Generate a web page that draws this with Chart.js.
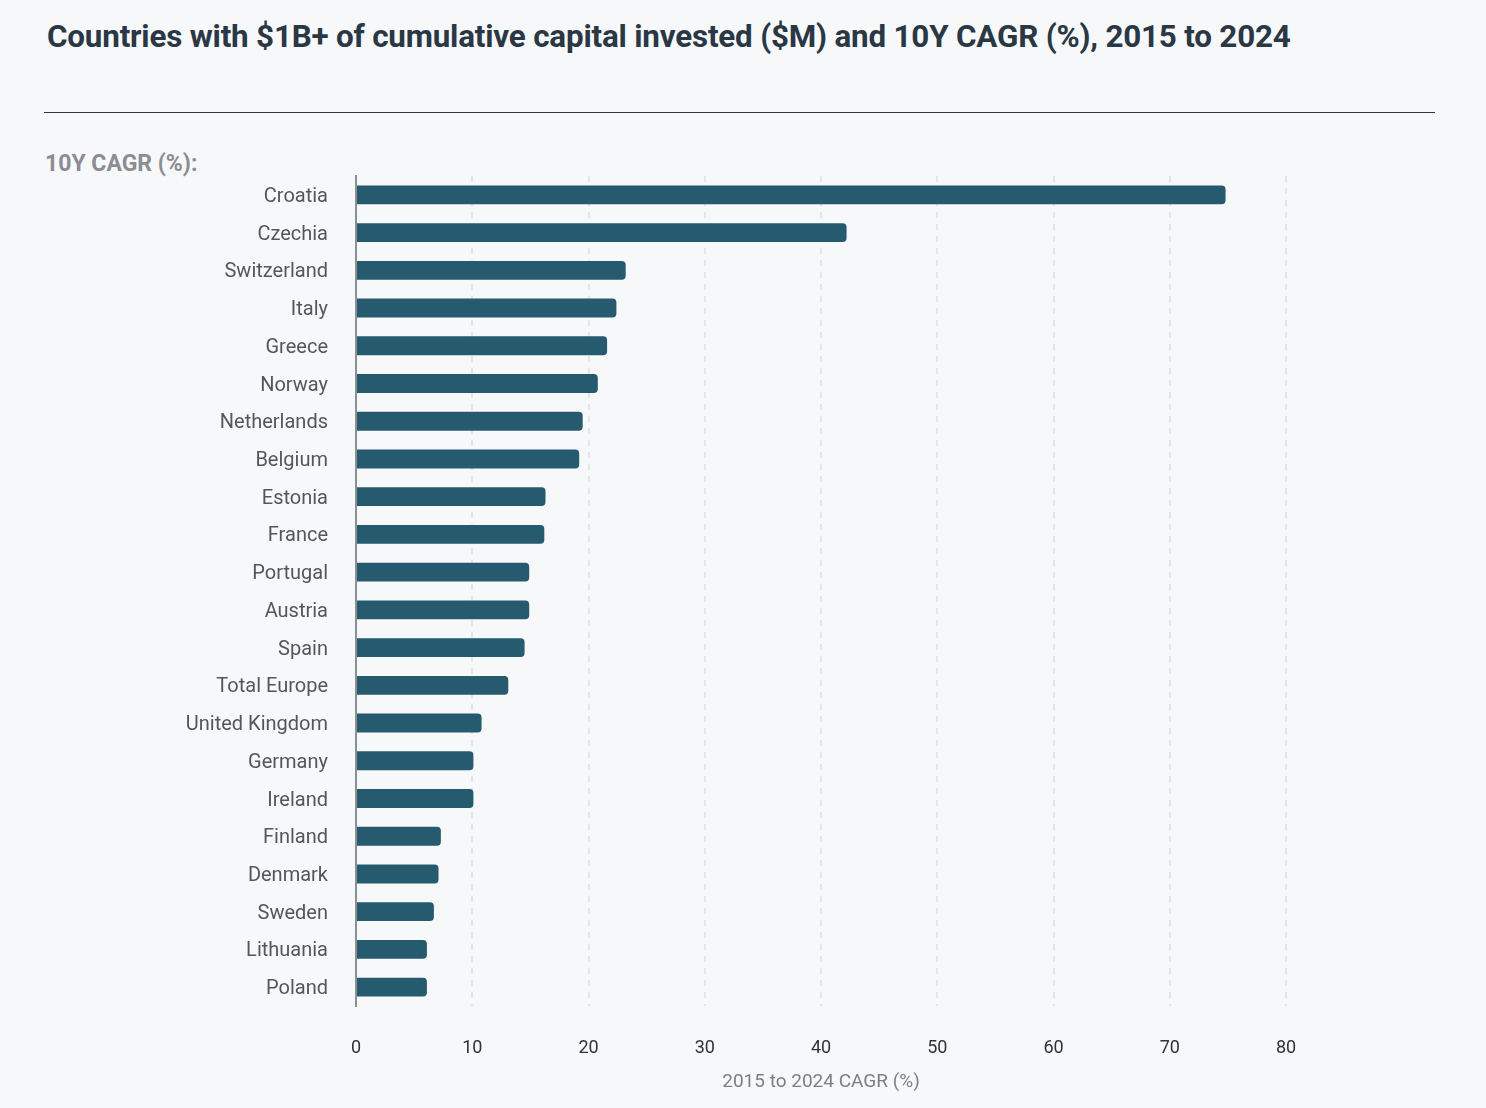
<!DOCTYPE html>
<html>
<head>
<meta charset="utf-8">
<script src="https://cdn.jsdelivr.net/npm/chart.js@4/dist/chart.umd.min.js"></script>
<style>
  html, body { margin: 0; padding: 0; background: #f7f8fa; }
  body { width: 1486px; height: 1108px; position: relative; overflow: hidden; font-family: Roboto, "Noto Sans", sans-serif; }
  #title { position: absolute; left: 47px; top: 18px; font-size: 31.4px; font-weight: 700; color: #2a3744; white-space: nowrap; letter-spacing: -0.2px; }
  #rule { position: absolute; left: 44px; top: 112px; width: 1391px; height: 1px; background: #2b3a48; }
  #sub { position: absolute; left: 45px; top: 150px; font-size: 23px; font-weight: 700; color: #8a8d91; white-space: nowrap; }
  #wrap { position: absolute; left: 0; top: 0; width: 1486px; height: 1108px; }
</style>
</head>
<body>
<div id="title">Countries with $1B+ of cumulative capital invested ($M) and 10Y CAGR (%), 2015 to 2024</div>
<div id="rule"></div>
<div id="sub">10Y CAGR (%):</div>
<div id="wrap"><canvas id="c" width="1486" height="1108"></canvas></div>
<script>
const countries = ["Croatia","Czechia","Switzerland","Italy","Greece","Norway","Netherlands","Belgium","Estonia","France","Portugal","Austria","Spain","Total Europe","United Kingdom","Germany","Ireland","Finland","Denmark","Sweden","Lithuania","Poland"];
const cagr = [74.8, 42.2, 23.2, 22.4, 21.6, 20.8, 19.5, 19.2, 16.3, 16.2, 14.9, 14.9, 14.5, 13.1, 10.8, 10.1, 10.1, 7.3, 7.1, 6.7, 6.1, 6.1];
const xTicks = [0, 10, 20, 30, 40, 50, 60, 70, 80];
const xTitle = "2015 to 2024 CAGR (%)";

new Chart(document.getElementById('c'), {
  type: 'bar',
  data: {
    labels: countries,
    datasets: [{
      data: cagr,
      backgroundColor: '#265a6e',
      borderRadius: 4,
      borderSkipped: 'start',
      barPercentage: 0.5,
      categoryPercentage: 1.0
    }]
  },
  options: {
    indexAxis: 'y',
    responsive: false,
    animation: false,
    devicePixelRatio: 1,
    layout: { padding: { top: 176, right: 200, left: 0, bottom: 0 } },
    plugins: { legend: { display: false }, tooltip: { enabled: false } },
    scales: {
      x: {
        min: 0, max: 80,
        afterBuildTicks: (s) => { s.ticks = xTicks.map(v => ({ value: v })); },
        afterFit: (s) => { s.height = 102; },
        grid: {
          drawTicks: false,
          color: (ctx) => ctx.tick && ctx.tick.value === 0 ? 'rgba(0,0,0,0)' : '#e4e5e7',
          lineWidth: 2
        },
        border: { display: false, dash: [6, 6] },
        ticks: { padding: 32, color: '#2f3337', font: { family: 'Roboto', size: 18 } },
        title: { display: true, text: xTitle, color: '#7b8087', font: { family: 'Roboto', size: 19 }, padding: { top: 0, bottom: 14 } }
      },
      y: {
        afterFit: (s) => { s.width = 356; },
        grid: { display: false, drawTicks: false },
        border: { display: true, color: '#8b9095', width: 2 },
        ticks: { padding: 28, labelOffset: 2, color: '#53575c', font: { family: 'Roboto', size: 20 } }
      }
    }
  }
});
</script>
</body>
</html>
